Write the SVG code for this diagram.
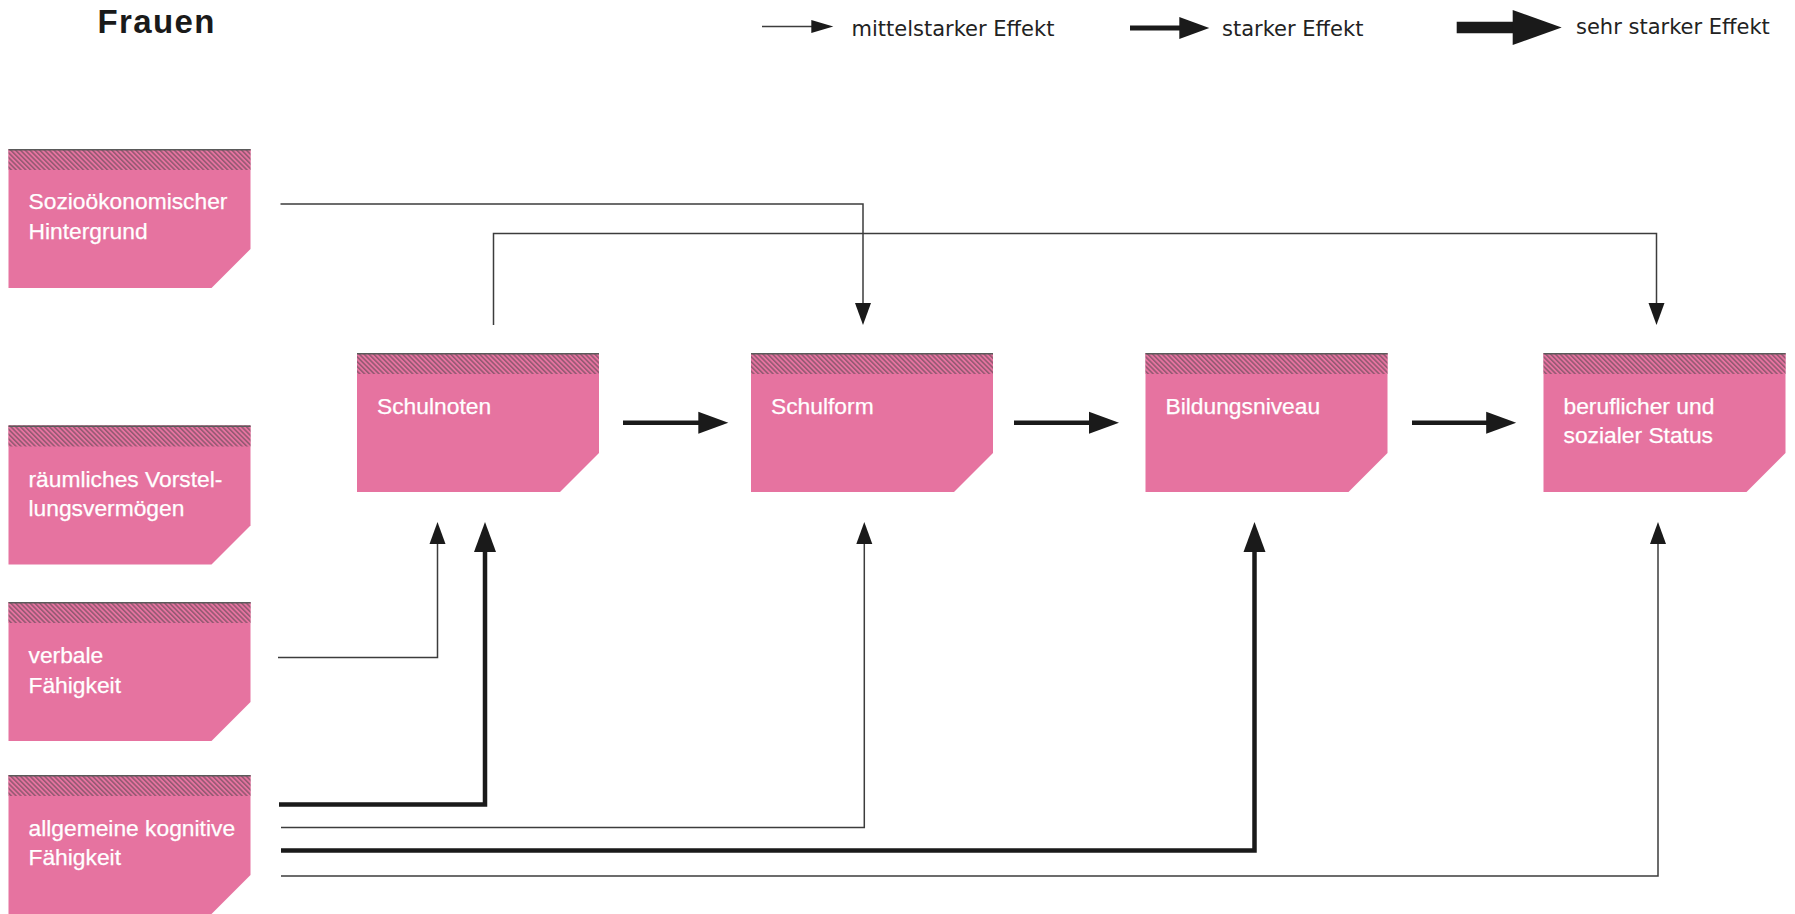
<svg xmlns="http://www.w3.org/2000/svg" xmlns:xlink="http://www.w3.org/1999/xlink" width="1795" height="914" viewBox="0 0 1795 914">
<style>
.bg{fill:#ffffff}
.box{fill:#e673a0}
.hatch{fill:url(#hatchPat)}
.topline{stroke:#5a5a5a;stroke-width:1.5}
.nt{font-family:'Liberation Sans',Arial,Helvetica,sans-serif;font-size:22.8px;fill:#ffffff;stroke:#ffffff;stroke-width:0.25}
.title{font-family:'Liberation Sans',Arial,Helvetica,sans-serif;font-size:33px;font-weight:bold;fill:#1a1a1a;letter-spacing:1.4px}
.lt{font-family:'DejaVu Sans',Verdana,sans-serif;font-size:21px;fill:#222222}
.thin{fill:none;stroke:#3c3c3c;stroke-width:1.5}
.thick{fill:none;stroke:#1a1a1a;stroke-width:4.5}
.mk{fill:#1a1a1a}
</style>
<defs>
<pattern id="hatchPat" patternUnits="userSpaceOnUse" width="3.4" height="10" patternTransform="rotate(-45)">
<rect x="0" y="0" width="3.4" height="10" fill="#e673a0"/>
<line x1="0.8" y1="0" x2="0.8" y2="10" stroke="#7a5163" stroke-width="1.2"/>
</pattern>
<g id="box">
<path class="box" d="M0,0 H242 V100 L203,139 H0 Z"/>
<rect class="hatch" x="0" y="0" width="242" height="21"/>
<line class="topline" x1="0" y1="0.75" x2="242" y2="0.75"/>
</g>
<marker id="aThin" markerUnits="userSpaceOnUse" markerWidth="24" markerHeight="18" refX="1" refY="8" orient="auto" overflow="visible">
<path class="mk" d="M0,0 L22,8 L0,16 Z"/>
</marker>
<marker id="aThick" markerUnits="userSpaceOnUse" markerWidth="32" markerHeight="24" refX="1" refY="11" orient="auto" overflow="visible">
<path class="mk" d="M0,0 L30,11 L0,22 Z"/>
</marker>
<marker id="aLegThin" markerUnits="userSpaceOnUse" markerWidth="24" markerHeight="14" refX="1" refY="6.5" orient="auto" overflow="visible">
<path class="mk" d="M0,0 L22,6.5 L0,13 Z"/>
</marker>
<marker id="aLegHuge" markerUnits="userSpaceOnUse" markerWidth="50" markerHeight="36" refX="1" refY="17.5" orient="auto" overflow="visible">
<path class="mk" d="M0,0 L49,17.5 L0,35 Z"/>
</marker>
</defs>

<rect class="bg" x="0" y="0" width="1795" height="914"/>

<text class="title" x="97.5" y="33">Frauen</text>

<g id="legend">
<path class="thin" d="M762,26.5 H812.3" marker-end="url(#aLegThin)"/>
<text class="lt" x="851.5" y="35.5">mittelstarker Effekt</text>
<path class="thick" style="stroke-width:5" d="M1130,28 H1180.3" marker-end="url(#aThick)"/>
<text class="lt" x="1222" y="35.5">starker Effekt</text>
<path class="thick" style="stroke-width:11.7" d="M1456.7,27.5 H1513.7" marker-end="url(#aLegHuge)"/>
<text class="lt" x="1576" y="33.5">sehr starker Effekt</text>
</g>

<g id="connectors">
<path class="thin" d="M280.5,204 H863 V304" marker-end="url(#aThin)"/>
<path class="thin" d="M493.5,325 V233.5 H1656.5 V304" marker-end="url(#aThin)"/>
<path class="thin" d="M278,657.5 H437.5 V543" marker-end="url(#aThin)"/>
<path class="thick" d="M279,804.5 H485 V551" marker-end="url(#aThick)"/>
<path class="thin" d="M281,827.5 H864.3 V543" marker-end="url(#aThin)"/>
<path class="thick" d="M281,850.5 H1254.5 V551" marker-end="url(#aThick)"/>
<path class="thin" d="M281,876 H1658 V543" marker-end="url(#aThin)"/>
<path class="thick" d="M623,422.7 H699.3" marker-end="url(#aThick)"/>
<path class="thick" d="M1014,422.7 H1090" marker-end="url(#aThick)"/>
<path class="thick" d="M1412,422.7 H1487.2" marker-end="url(#aThick)"/>
</g>

<g id="node-sozio" transform="translate(8.5,149)">
<use xlink:href="#box" href="#box"/>
<text class="nt" x="20" y="60"><tspan x="20" y="60">Sozioökonomischer</tspan><tspan x="20" y="89.5">Hintergrund</tspan></text>
</g>
<g id="node-raeumlich" transform="translate(8.5,425.5)">
<use xlink:href="#box" href="#box"/>
<text class="nt" x="20" y="61"><tspan x="20" y="61">räumliches Vorstel-</tspan><tspan x="20" y="90">lungsvermögen</tspan></text>
</g>
<g id="node-verbal" transform="translate(8.5,602)">
<use xlink:href="#box" href="#box"/>
<text class="nt" x="20" y="61"><tspan x="20" y="61">verbale</tspan><tspan x="20" y="90.5">Fähigkeit</tspan></text>
</g>
<g id="node-allgemein" transform="translate(8.5,775)">
<use xlink:href="#box" href="#box"/>
<text class="nt" x="20" y="60.5"><tspan x="20" y="60.5">allgemeine kognitive</tspan><tspan x="20" y="90">Fähigkeit</tspan></text>
</g>
<g id="node-schulnoten" transform="translate(357,353)">
<use xlink:href="#box" href="#box"/>
<text class="nt" x="20" y="61">Schulnoten</text>
</g>
<g id="node-schulform" transform="translate(751,353)">
<use xlink:href="#box" href="#box"/>
<text class="nt" x="20" y="61">Schulform</text>
</g>
<g id="node-bildung" transform="translate(1145.5,353)">
<use xlink:href="#box" href="#box"/>
<text class="nt" x="20" y="61">Bildungsniveau</text>
</g>
<g id="node-status" transform="translate(1543.5,353)">
<use xlink:href="#box" href="#box"/>
<text class="nt" x="20" y="61"><tspan x="20" y="61">beruflicher und</tspan><tspan x="20" y="90">sozialer Status</tspan></text>
</g>
</svg>
